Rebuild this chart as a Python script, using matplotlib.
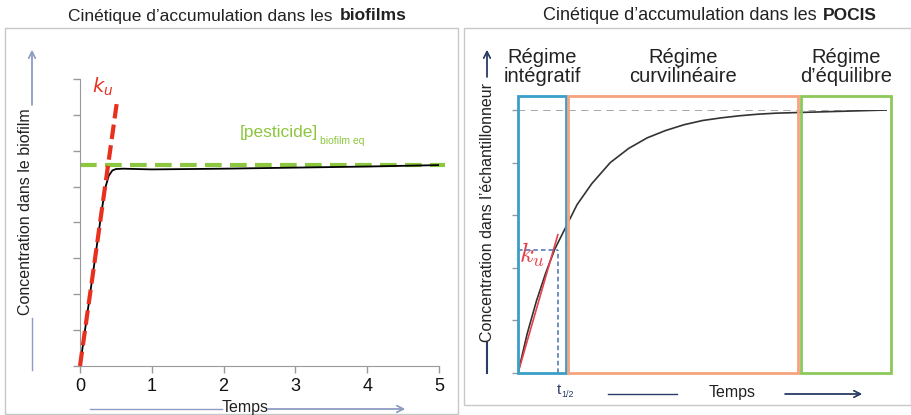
import matplotlib
matplotlib.use("Agg")
from matplotlib import pyplot as plt
from matplotlib.patches import Rectangle
from matplotlib.lines import Line2D

plt.rcParams['font.family'] = ['Liberation Sans', 'DejaVu Sans']

# left panel: biofilm accumulation
bio_t = [0, 0.1, 0.2, 0.3, 0.35, 0.4, 0.45, 0.5, 0.6, 0.8, 1, 1.5, 2, 3, 4, 5]
bio_c = [0, 1.43, 2.86, 4.3, 4.95, 5.3, 5.45, 5.49, 5.5, 5.49, 5.48, 5.49, 5.5, 5.53, 5.56, 5.6]
bio_eq = 5.6
bio_ku_t = [0, 0.51]
bio_ku_c = [0, 7.3]
bio_xticks = [0, 1, 2, 3, 4, 5]

# right panel: POCIS accumulation
pocis_t = [0, 0.25, 0.5, 0.75, 1, 1.3, 1.6, 2, 2.5, 3, 3.5, 4, 4.5, 5, 5.5, 6, 6.5, 7, 7.5, 8, 9, 10]
pocis_c = [0, 0.75, 1.37, 1.9, 2.36, 2.78, 3.2, 3.6, 4.0, 4.27, 4.47, 4.61, 4.72, 4.8, 4.85, 4.89,
           4.92, 4.94, 4.95, 4.96, 4.98, 5.0]
pocis_eq = 5.0
pocis_ku_t = [0, 1.08]
pocis_ku_c = [0, 2.63]
t_half = 1.08
c_half = 2.34
regimes = ["Régime\nintégratif", "Régime\ncurvilinéaire", "Régime\nd’équilibre"]
regime_t = [(0, 1.3), (1.36, 7.59), (7.67, 10.1)]
regime_top = 5.26
regime_colors = ['#3a9fc9', '#f6a47f', '#8cc85a']

W, H = 912, 415


def fx(x):
    return x / W


def fy(y):
    return 1 - y / H


def fig_line(fig, x0, y0, x1, y1, color, arrow=False, lw=1.0):
    if arrow:
        fig.add_artist(plt.annotate("", xy=(fx(x1), fy(y1)), xytext=(fx(x0), fy(y0)),
                                    xycoords='figure fraction', textcoords='figure fraction',
                                    arrowprops=dict(arrowstyle='->', color=color, lw=lw,
                                                    shrinkA=0, shrinkB=0, mutation_scale=12)))
    else:
        fig.add_artist(Line2D([fx(x0), fx(x1)], [fy(y0), fy(y1)], color=color, lw=lw,
                              transform=fig.transFigure))


fig = plt.figure(figsize=(9.12, 4.15), dpi=100)

# panel frames
for x0, y0, x1, y1 in [(5, 28, 458, 414), (464, 28, 911, 405)]:
    fig.add_artist(Rectangle((fx(x0), fy(y1)), fx(x1 - x0), (y1 - y0) / H, fill=False,
                             edgecolor='#c8c8c8', lw=1.0, transform=fig.transFigure))

# titles with bold end
fig.text(fx(333), fy(16), "Cinétique d’accumulation dans les", ha='right', va='center', fontsize=12.5,
         color='#222222')
fig.text(fx(340), fy(16), "biofilms", ha='left', va='center', fontsize=12.5, fontweight='bold',
         color='#222222')
fig.text(fx(817), fy(16), "Cinétique d’accumulation dans les", ha='right', va='center', fontsize=13,
         color='#222222')
fig.text(fx(823), fy(16), "POCIS", ha='left', va='center', fontsize=12.5, fontweight='bold',
         color='#222222')

# ---- left axes
ax1 = fig.add_axes([fx(80), fy(366), (439 - 80) / W, (366 - 79) / H])
ax1.plot(bio_t, bio_c, color='black', lw=1.3, zorder=3)
ax1.plot([0, 5.08], [bio_eq, bio_eq], color='#8dc63f', lw=3, ls=(0, (4, 2)), clip_on=False, zorder=2)
ax1.plot(bio_ku_t, bio_ku_c, color='#e8301e', lw=3, ls=(0, (3.5, 1.5)), clip_on=False, zorder=4)
ax1.set_xlim(0, 5)
ax1.set_ylim(0, 8)
ax1.set_xticks(bio_xticks)
ax1.set_yticks(range(9))
ax1.set_yticklabels([])
ax1.tick_params(colors='#999999', labelcolor='#111111', labelsize=13, length=5, width=1)
for s in ['top', 'right']:
    ax1.spines[s].set_visible(False)
for s in ['left', 'bottom']:
    ax1.spines[s].set_color('#999999')
ax1.text(0.31, 7.77, "$k_u$", color='#e8301e', fontsize=14, ha='center', va='center',
         math_fontfamily='dejavusans')
ax1.text(3.31, 6.5, "[pesticide]", color='#8dc63f', fontsize=12.5, ha='right', va='center')
ax1.text(3.34, 6.28, "biofilm eq", color='#8dc63f', fontsize=7.5, ha='left', va='center')

# left axis annotations
c_left = '#8f9cc4'
fig.text(fx(26), fy(212), "Concentration dans le biofilm", rotation=90, ha='center', va='center',
         fontsize=11.5, color='#222222')
fig_line(fig, 32, 105, 32, 50, c_left, arrow=True)
fig_line(fig, 32, 318, 32, 370, c_left)
fig.text(fx(245), fy(407), "Temps", ha='center', va='center', fontsize=11.5, color='#222222')
fig_line(fig, 90, 409, 222, 409, c_left)
fig_line(fig, 268, 409, 405, 409, c_left, arrow=True)

# ---- right axes
ax2 = fig.add_axes([fx(518), fy(373), (887 - 518) / W, (373 - 110) / H])
ax2.plot(pocis_t, pocis_c, color='#333333', lw=1.2, zorder=3)
ax2.plot([0, 10], [pocis_eq, pocis_eq], color='#a0a0a0', lw=1.3, ls=(0, (4, 3)), zorder=2)
ax2.plot(pocis_ku_t, pocis_ku_c, color='#e8404a', lw=1.2, zorder=4)
ax2.plot([0, t_half], [c_half, c_half], color='#4a6fb0', lw=1.1, ls=(0, (3, 2)), zorder=4)
ax2.plot([t_half, t_half], [0, c_half], color='#4a6fb0', lw=1.1, ls=(0, (3, 2)), zorder=4)
for (t0, t1), col in zip(regime_t, regime_colors):
    ax2.add_patch(Rectangle((t0, 0), t1 - t0, regime_top, fill=False, edgecolor=col, lw=2,
                            clip_on=False, zorder=5))
for name, (t0, t1) in zip(regimes, regime_t):
    ax2.text((t0 + t1) / 2, 5.82, name, ha='center', va='center', fontsize=14.5, color='#222222',
             linespacing=1.0)
ax2.set_xlim(0, 10)
ax2.set_ylim(0, 5)
ax2.set_xticks([])
ax2.set_yticks(range(6))
ax2.set_yticklabels([])
ax2.tick_params(colors='#999999', length=4, width=1)
for s in ['top', 'right']:
    ax2.spines[s].set_visible(False)
for s in ['left', 'bottom']:
    ax2.spines[s].set_color('#999999')
ax2.text(0.38, 2.52, "$k_u$", color='#e8404a', fontsize=19, ha='center', va='top',
         math_fontfamily='cm')
ax2.text(t_half + 0.1, -0.33, "t", color='#2b3d66', fontsize=11, ha='right', va='center')
ax2.text(t_half + 0.1, -0.4, "1/2", color='#2b3d66', fontsize=6.5, ha='left', va='center')

# right axis annotations
c_right = '#2b3d66'
fig.text(fx(488), fy(212), "Concentration dans l’échantillonneur", rotation=90, ha='center',
         va='center', fontsize=11.5, color='#222222')
fig_line(fig, 487, 77, 487, 50, c_right, arrow=True)
fig_line(fig, 487, 343, 487, 373, c_right, lw=1.5)
fig.text(fx(732), fy(392), "Temps", ha='center', va='center', fontsize=11.5, color='#222222')
fig_line(fig, 608, 394, 677, 394, c_right)
fig_line(fig, 785, 394, 862, 394, c_right, arrow=True)

fig.savefig("out.png", dpi=100)
